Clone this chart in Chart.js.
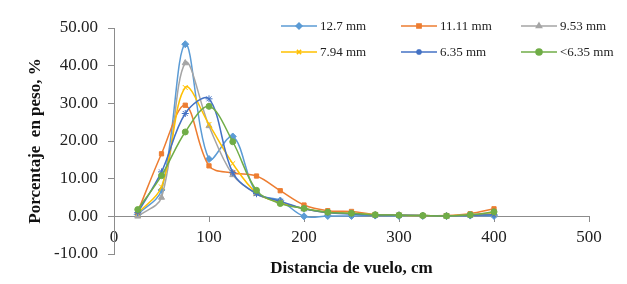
<!DOCTYPE html>
<html>
<head>
  <title>Distancia de vuelo</title>
  <style>
    body { margin: 0; background: #fff; }
    #wrap { width: 627px; height: 284px; }
  </style>
</head>
<body>
  <div id="wrap"><canvas id="chart"></canvas></div>

  <script src="https://cdn.jsdelivr.net/npm/chart.js"></script>
  <script>
    // distances (cm) and weight percentages per particle size
    const distances = [25, 50, 75, 100, 125, 150, 175, 200, 225, 250, 275, 300, 325, 350, 375, 400];
    const labels = ['12.7 mm', '11.11 mm', '9.53 mm', '7.94 mm', '6.35 mm', '<6.35 mm'];
    const s127 = [0.5, 7.0, 45.7, 15.2, 21.2, 6.2, 4.2, 0.0, 0.1, 0.1, 0.2, 0.1, 0.1, 0.1, 0.2, 0.1];
    const s1111 = [1.2, 16.6, 29.5, 13.4, 11.5, 10.7, 6.8, 3.0, 1.5, 1.3, 0.5, 0.3, 0.2, 0.2, 0.7, 2.0];
    const s953 = [0.0, 5.0, 40.7, 24.0, 11.0, 6.0, 3.8, 2.0, 1.0, 0.8, 0.4, 0.3, 0.2, 0.1, 0.4, 0.8];
    const s794 = [0.8, 7.8, 34.2, 24.4, 14.0, 6.2, 3.6, 2.1, 1.0, 0.8, 0.4, 0.3, 0.2, 0.1, 0.4, 0.6];
    const s635 = [1.0, 11.8, 27.3, 31.2, 11.6, 6.0, 4.0, 2.0, 1.0, 0.6, 0.3, 0.3, 0.2, 0.1, 0.3, 0.4];
    const sLess = [1.8, 10.8, 22.4, 29.2, 19.8, 6.9, 3.4, 2.1, 1.1, 0.8, 0.4, 0.3, 0.2, 0.1, 0.4, 1.2];
    const seriesValues = [s127, s1111, s953, s794, s635, sLess];

    const colors = ['#5B9BD5', '#ED7D31', '#A5A5A5', '#FFC000', '#4472C4', '#70AD47'];
    const markers = ['rectRot', 'rect', 'triangle', 'crossRot', 'star', 'circle'];
    const radii = [3.5, 3, 3.5, 3.5, 3.5, 3];

    const datasets = seriesValues.map((vals, i) => ({
      label: labels[i],
      data: vals.map((v, j) => ({ x: distances[j], y: v })),
      borderColor: colors[i],
      backgroundColor: colors[i],
      borderWidth: 1.5,
      pointStyle: markers[i],
      pointRadius: radii[i],
      pointBorderWidth: 1,
      tension: 0.35,
      showLine: true,
      order: 5 - i
    }));

    // legend drawn over the plot like the original
    const overlayLegend = {
      id: 'overlayLegend',
      afterDraw(chart) {
        const ctx = chart.ctx;
        const colX = [281, 401, 521];
        const rowY = [26, 52];
        ctx.save();
        ctx.font = '13px "Liberation Serif", "Times New Roman", serif';
        ctx.textBaseline = 'middle';
        chart.data.datasets.forEach((ds, i) => {
          const x = colX[i % 3];
          const y = rowY[Math.floor(i / 3)];
          ctx.strokeStyle = ds.borderColor;
          ctx.lineWidth = 1.5;
          ctx.beginPath();
          ctx.moveTo(x, y);
          ctx.lineTo(x + 36, y);
          ctx.stroke();
          ctx.fillStyle = ds.backgroundColor;
          Chart.helpers.drawPoint(ctx, { pointStyle: ds.pointStyle, radius: 3, borderWidth: 1 }, x + 18, y);
          ctx.fillStyle = '#222';
          ctx.fillText(ds.label, x + 39, y + 1);
        });
        ctx.restore();
      }
    };

    const serif = '"Liberation Serif", "Times New Roman", serif';

    new Chart(document.getElementById('chart'), {
      type: 'scatter',
      data: { datasets: datasets },
      options: {
        responsive: true,
        maintainAspectRatio: false,
        animation: false,
        layout: { padding: { top: 28, right: 38, left: 0, bottom: 30 } },
        plugins: { legend: { display: false }, tooltip: { enabled: false } },
        scales: {
          x: {
            type: 'linear',
            position: { y: 0 },
            min: 0,
            max: 500,
            ticks: { stepSize: 100, color: '#222', font: { family: serif, size: 17 }, padding: 6, maxRotation: 0 },
            grid: { display: true, drawOnChartArea: false, tickLength: 5, color: '#8c8c8c' },
            border: { color: '#8c8c8c' },
            title: { display: true, text: 'Distancia de vuelo, cm', color: '#111', font: { family: serif, size: 17, weight: 'bold' }, padding: { top: 5, bottom: 6 } }
          },
          y: {
            min: -10,
            max: 50,
            afterFit(scale) { scale.width = 114; },
            ticks: { stepSize: 10, color: '#222', font: { family: serif, size: 17 }, padding: 10, callback: v => v.toFixed(2) },
            grid: { display: true, drawOnChartArea: false, tickLength: 6, color: '#8c8c8c' },
            border: { color: '#8c8c8c' },
            title: { display: true, text: 'Porcentaje  en peso, %', color: '#111', font: { family: serif, size: 17, weight: 'bold' }, padding: { top: 25, bottom: 0 } }
          }
        }
      },
      plugins: [overlayLegend]
    });
  </script>
</body>
</html>
